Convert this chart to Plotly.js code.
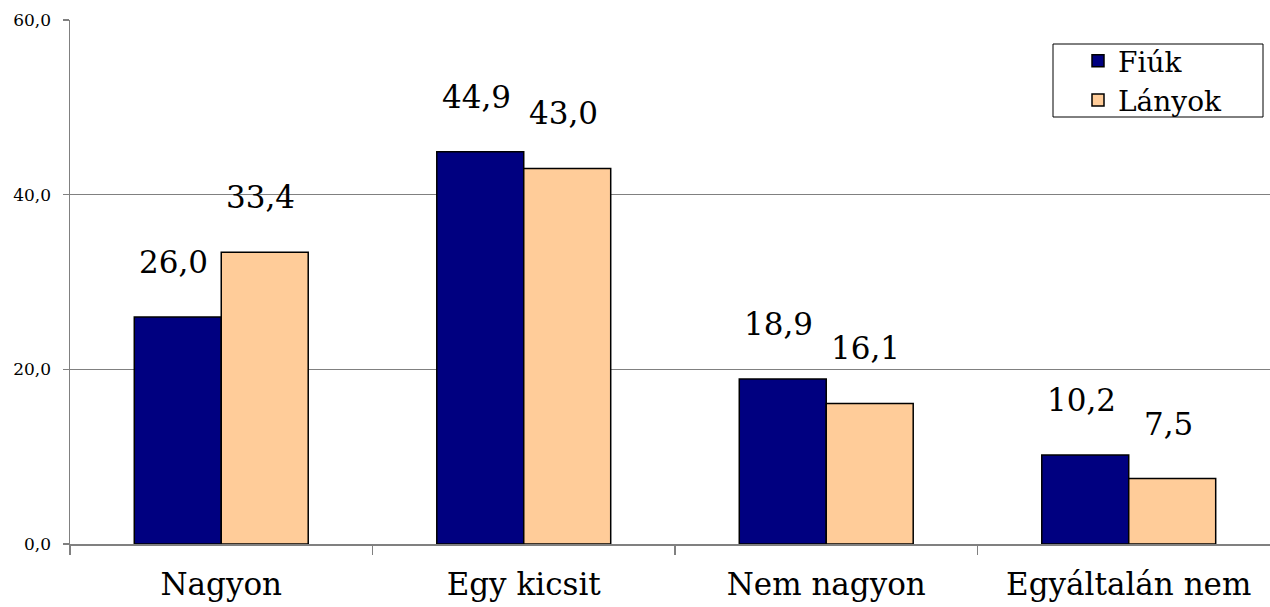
<!DOCTYPE html>
<html>
<head>
<meta charset="utf-8">
<script src="https://cdn.plot.ly/plotly-3.0.1.min.js"></script>
<style>html,body{margin:0;padding:0;background:#fff;}#chart{width:1270px;height:607px;}</style>
</head>
<body>
<div id="chart"></div>
<script>
const categories = ["Nagyon", "Egy kicsit", "Nem nagyon", "Egyáltalán nem"];
const seriesNames = ["Fiúk", "Lányok"];
const fiukValues = [26.0, 44.9, 18.9, 10.2];
const lanyokValues = [33.4, 43.0, 16.1, 7.5];
const yTickValues = [0, 20, 40, 60];

const FONT = 'DejaVu Serif';
const BARGAP = 0.425;
const half = (1 - BARGAP) / 4; // half of one bar width, in category units

const traces = [
  {type: 'bar', name: seriesNames[0], x: categories, y: fiukValues,
   marker: {color: '#000080', line: {color: '#000000', width: 1.5}}},
  {type: 'bar', name: seriesNames[1], x: categories, y: lanyokValues,
   marker: {color: '#FFCC99', line: {color: '#000000', width: 1.5}}}
];

const annotations = [];
[fiukValues, lanyokValues].forEach((vals, s) => {
  vals.forEach((v, i) => {
    annotations.push({
      xref: 'x', yref: 'y',
      x: i + (s === 0 ? -half : half), y: v,
      text: v.toFixed(1).replace('.', ','),
      showarrow: false, yanchor: 'bottom', xanchor: 'center',
      yshift: 35, xshift: -4,
      font: {family: FONT, size: 31, color: '#000'}
    });
  });
});

// plot area: x 70..1270 px, y 20..544 px
const px2x = p => (p - 70) / 1200;
const px2y = p => (544 - p) / 524;

const layout = {
  width: 1270, height: 607,
  margin: {l: 70, r: 0, t: 20, b: 63, pad: 0},
  paper_bgcolor: '#fff', plot_bgcolor: '#fff',
  separators: ',.',
  barmode: 'group', bargap: BARGAP, bargroupgap: 0,
  font: {family: FONT, color: '#000'},
  showlegend: true,
  legend: {
    x: px2x(1078), y: px2y(36), xanchor: 'left', yanchor: 'top',
    bgcolor: 'rgba(0,0,0,0)', borderwidth: 0,
    font: {family: FONT, size: 28, color: '#000'},
    tracegroupgap: 0, itemwidth: 30
  },
  shapes: [{
    type: 'rect', xref: 'paper', yref: 'paper', layer: 'above',
    x0: px2x(1053), x1: px2x(1263), y0: px2y(117), y1: px2y(44),
    line: {color: '#000', width: 1}, fillcolor: '#fff'
  }],
  xaxis: {
    type: 'category', range: [-0.5, 3.467],
    showline: true, linecolor: '#808080', linewidth: 1.5,
    ticks: 'outside', tickson: 'boundaries', ticklen: 9, tickcolor: '#808080', tickwidth: 1.5,
    showgrid: false, ticklabelstandoff: 12,
    tickfont: {family: FONT, size: 31, color: '#000'}
  },
  yaxis: {
    range: [0, 60], tickvals: yTickValues, tickformat: '.1f',
    showline: true, linecolor: '#808080', linewidth: 1.5,
    ticks: 'outside', ticklen: 6, tickcolor: '#808080', tickwidth: 1.5,
    showgrid: true, gridcolor: '#808080', gridwidth: 1,
    zeroline: false, ticklabelstandoff: 8,
    tickfont: {family: FONT, size: 17, color: '#000'}
  },
  annotations: annotations
};

Plotly.newPlot('chart', traces, layout, {displayModeBar: false, staticPlot: true});
</script>
</body>
</html>
